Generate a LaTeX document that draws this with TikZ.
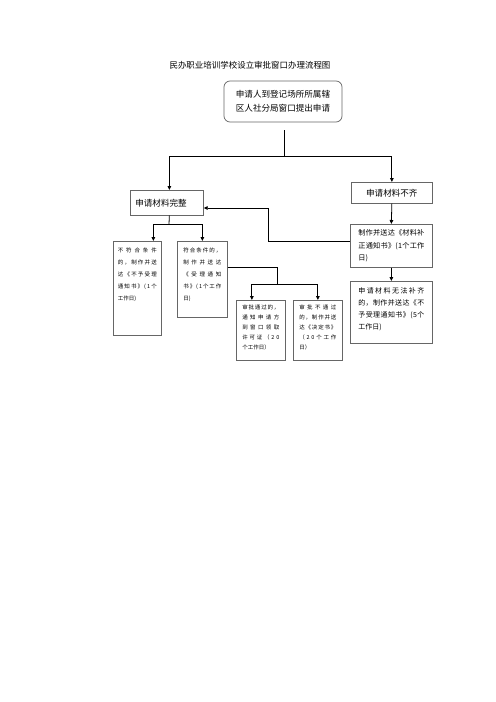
\documentclass[tikz,border=0pt]{standalone}
\usepackage{fontspec}
\setmainfont{Noto Sans CJK SC}
\usetikzlibrary{arrows.meta}
\def\spfirst#1{#1\spnext}
\def\spnext#1{\ifx\relax#1\else\hfil#1\expandafter\spnext\fi}
\newcommand\spl[1]{\hbox to\linewidth{\spfirst#1\relax}}
\newcommand\bxt[4]{\parbox[c][#2][t]{#1}{\vspace*{#3}#4}}
\begin{document}
\begin{tikzpicture}[x=1bp,y=-1bp,
  bx/.style={draw=black!60, line width=0.7bp, inner sep=0pt, anchor=north west},
  conn/.style={draw=black, line width=0.8bp},
  arr/.style={conn, -{Triangle[length=4bp,width=3.6bp]}},
  ]
\fill[white] (0,0) rectangle (496,702);
\useasboundingbox (0,0) rectangle (496,702);

\node (title) at (250,65) {\fontsize{8.5}{10}\selectfont 民办职业培训学校设立审批窗口办理流程图};

\node[bx, rounded corners=6bp, anchor=center, minimum width=118bp, minimum height=41bp, align=center,
  font=\fontsize{8.6}{14}\selectfont] (top) at (283,101.5) {申请人到登记场所所属辖\\区人社分局窗口提出申请};

\node[bx, minimum width=73bp, minimum height=25bp, inner xsep=5bp] (full) at (130,190)
  {\fontsize{8.6}{10}\selectfont\makebox[63bp][l]{申请材料完整}};

\node[bx, minimum width=81bp, minimum height=21bp] (lack) at (351,182)
  {\fontsize{8.6}{10}\selectfont 申请材料不齐};

\node[bx, minimum width=82bp, minimum height=43bp, inner xsep=7bp] (notice) at (350,224)
  {\bxt{66bp}{43bp}{5.5bp}{\fontsize{7.2}{12.5}\selectfont
   \spl{制作并送达《材料补}\spl{正通知书》(1个工作}日)}};

\node[bx, minimum width=82bp, minimum height=62bp, inner xsep=7bp] (fail) at (350,281)
  {\bxt{66bp}{62bp}{6bp}{\fontsize{7}{12}\selectfont
   \spl{申请材料无法补齐}\spl{的，制作并送达《不}\spl{予受理通知书》(5个}工作日)}};

\node[bx, minimum width=48bp, minimum height=94bp, inner xsep=4.5bp] (b1) at (113,241)
  {\bxt{39bp}{94bp}{6.5bp}{\fontsize{5.5}{12}\selectfont
   \spl{不符合条件}\spl{的，制作并送}\spl{达《不予受理}\spl{通知书》(1个}工作日)}};

\node[bx, minimum width=50bp, minimum height=76bp, inner xsep=6bp] (b2) at (177,241)
  {\bxt{38bp}{76bp}{6.5bp}{\fontsize{5.5}{12}\selectfont
   \spl{符合条件的，}\spl{制作并送达}\spl{《受理通知}\spl{书》(1个工作}日)}};

\node[bx, minimum width=48bp, minimum height=60bp, inner xsep=6bp] (b3) at (236,300)
  {\bxt{37bp}{60bp}{5bp}{\fontsize{5.5}{10}\selectfont
   \spl{审批通过的，}\spl{通知申请方}\spl{到窗口领取}\spl{许可证（20}个工作日）}};

\node[bx, minimum width=49bp, minimum height=60bp, inner xsep=6bp] (b4) at (293,300)
  {\bxt{37bp}{60bp}{5bp}{\fontsize{5.5}{10}\selectfont
   \spl{审批不通过}\spl{的，制作并送}\spl{达《决定书》}\spl{（20个工作}日）}};

% connectors
\coordinate (j0) at (284,130);
\coordinate (j1) at (284,156);
\draw[conn] (j0) -- (j1);
\draw[arr] (j1) -| ([xshift=2.5bp]full.north);
\draw[arr] (j1) -| (lack.north);
\draw[arr] (lack.south) -- (notice.north);
\draw[arr] (notice.south) -- (fail.north);

\coordinate (r1) at (268,241);
\coordinate (r2) at (268,208);
\draw[arr] (notice.west |- r1) -- (r1) -- (r2) -- (full.east |- r2);

\coordinate (j2) at (169,224);
\draw[conn] ([xshift=2.5bp]full.south) -- (j2);
\draw[arr] (j2) -| ([xshift=16bp]b1.north);
\draw[arr] (j2) -| (b2.north);

\coordinate (r3) at (277,267);
\coordinate (j3) at (277,284);
\draw[conn] (b2.east |- r3) -- (r3) -- (j3);
\draw[arr] (j3) -| ([xshift=-9bp]b3.north);
\draw[arr] (j3) -| (b4.north);
\end{tikzpicture}
\end{document}
